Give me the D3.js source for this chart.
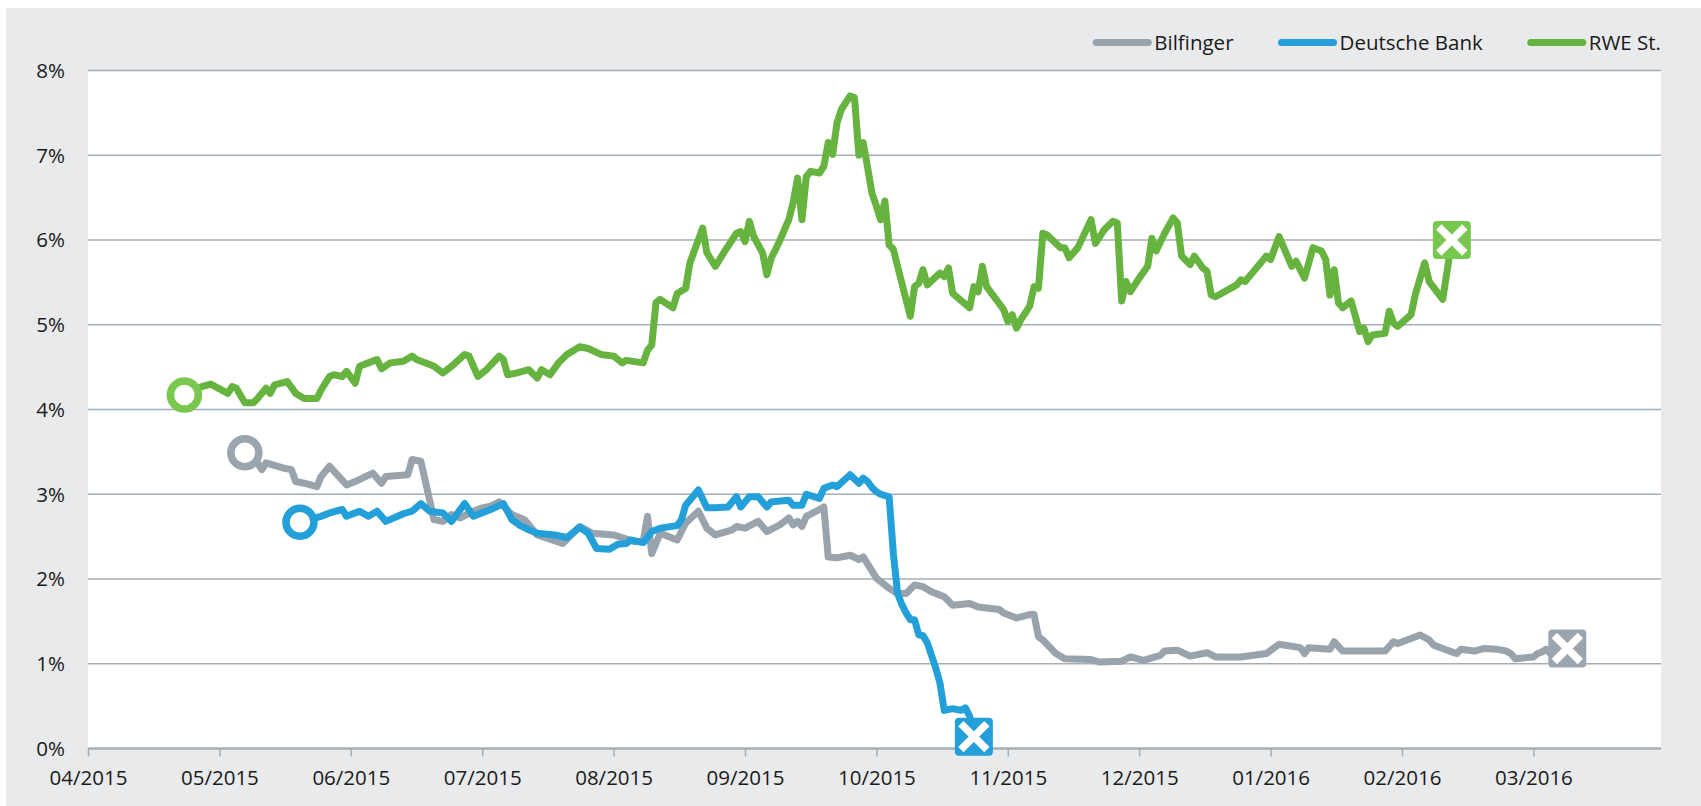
<!DOCTYPE html>
<html>
<head>
<meta charset="utf-8">
<script src="https://cdn.jsdelivr.net/npm/d3@7"></script>
<style>
  body { margin: 0; background: #ffffff; }
  svg { display: block; font-family: "Open Sans", sans-serif; }
</style>
</head>
<body>
<div id="chart"></div>
<script>
// Series names (legend order)
var seriesNames = ["Bilfinger", "Deutsche Bank", "RWE St."];

// Y tick values (percent)
var yTickValues = [0, 1, 2, 3, 4, 5, 6, 7, 8];

// Month boundaries of the x axis (ticks are the first 12)
var monthStarts = ["2015-04-01", "2015-05-01", "2015-06-01", "2015-07-01", "2015-08-01", "2015-09-01",
  "2015-10-01", "2015-11-01", "2015-12-01", "2016-01-01", "2016-02-01", "2016-03-01", "2016-04-01"];

// Bilfinger [date, percent]
var bilfinger = [
  ["2015-05-07", 3.49], ["2015-05-10", 3.37], ["2015-05-11", 3.29], ["2015-05-12", 3.37], ["2015-05-16", 3.31],
  ["2015-05-18", 3.29], ["2015-05-19", 3.15], ["2015-05-21", 3.13], ["2015-05-24", 3.09], ["2015-05-25", 3.21],
  ["2015-05-27", 3.33], ["2015-05-31", 3.11], ["2015-06-02", 3.15], ["2015-06-06", 3.25], ["2015-06-08", 3.13],
  ["2015-06-09", 3.21], ["2015-06-14", 3.23], ["2015-06-15", 3.41], ["2015-06-17", 3.39], ["2015-06-20", 2.70],
  ["2015-06-22", 2.68], ["2015-06-24", 2.76], ["2015-06-26", 2.72], ["2015-06-29", 2.80], ["2015-07-01", 2.84],
  ["2015-07-03", 2.86], ["2015-07-05", 2.91], ["2015-07-08", 2.76], ["2015-07-11", 2.70], ["2015-07-14", 2.52],
  ["2015-07-17", 2.47], ["2015-07-20", 2.42], ["2015-07-24", 2.62], ["2015-07-27", 2.54], ["2015-08-01", 2.52],
  ["2015-08-06", 2.44], ["2015-08-08", 2.45], ["2015-08-09", 2.74], ["2015-08-10", 2.30], ["2015-08-12", 2.54],
  ["2015-08-16", 2.46], ["2015-08-18", 2.66], ["2015-08-21", 2.80], ["2015-08-23", 2.60], ["2015-08-25", 2.52],
  ["2015-08-29", 2.58], ["2015-08-30", 2.62], ["2015-09-01", 2.60], ["2015-09-04", 2.68], ["2015-09-06", 2.56],
  ["2015-09-09", 2.64], ["2015-09-11", 2.72], ["2015-09-12", 2.64], ["2015-09-13", 2.68], ["2015-09-14", 2.62],
  ["2015-09-15", 2.74], ["2015-09-18", 2.82], ["2015-09-19", 2.85], ["2015-09-20", 2.26], ["2015-09-22", 2.25],
  ["2015-09-25", 2.28], ["2015-09-27", 2.23], ["2015-09-28", 2.26], ["2015-10-01", 2.01], ["2015-10-04", 1.89],
  ["2015-10-06", 1.83], ["2015-10-08", 1.83], ["2015-10-10", 1.93], ["2015-10-12", 1.91], ["2015-10-14", 1.85],
  ["2015-10-17", 1.79], ["2015-10-19", 1.69], ["2015-10-23", 1.71], ["2015-10-25", 1.67], ["2015-10-30", 1.64],
  ["2015-10-31", 1.60], ["2015-11-03", 1.54], ["2015-11-06", 1.58], ["2015-11-07", 1.58], ["2015-11-08", 1.32],
  ["2015-11-09", 1.28], ["2015-11-12", 1.12], ["2015-11-14", 1.06], ["2015-11-20", 1.05], ["2015-11-22", 1.02],
  ["2015-11-27", 1.03], ["2015-11-29", 1.08], ["2015-12-02", 1.04], ["2015-12-06", 1.10], ["2015-12-07", 1.15],
  ["2015-12-10", 1.16], ["2015-12-13", 1.09], ["2015-12-17", 1.13], ["2015-12-19", 1.08], ["2015-12-25", 1.08],
  ["2015-12-31", 1.12], ["2016-01-03", 1.23], ["2016-01-08", 1.19], ["2016-01-09", 1.12], ["2016-01-10", 1.19],
  ["2016-01-15", 1.17], ["2016-01-16", 1.26], ["2016-01-18", 1.15], ["2016-01-28", 1.15], ["2016-01-30", 1.26],
  ["2016-01-31", 1.24], ["2016-02-05", 1.34], ["2016-02-07", 1.28], ["2016-02-08", 1.22], ["2016-02-11", 1.16],
  ["2016-02-13", 1.12], ["2016-02-14", 1.17], ["2016-02-17", 1.15], ["2016-02-19", 1.18], ["2016-02-22", 1.17],
  ["2016-02-24", 1.15], ["2016-02-25", 1.12], ["2016-02-26", 1.06], ["2016-03-01", 1.08], ["2016-03-02", 1.12],
  ["2016-03-03", 1.14], ["2016-03-04", 1.17], ["2016-03-05", 1.12], ["2016-03-09", 1.18]
];

// Deutsche Bank [date, percent]
var deutscheBank = [
  ["2015-05-20", 2.67], ["2015-05-25", 2.74], ["2015-05-27", 2.78], ["2015-05-30", 2.82], ["2015-05-31", 2.74],
  ["2015-06-03", 2.80], ["2015-06-05", 2.74], ["2015-06-07", 2.80], ["2015-06-09", 2.68], ["2015-06-13", 2.77],
  ["2015-06-15", 2.80], ["2015-06-17", 2.89], ["2015-06-19", 2.80], ["2015-06-22", 2.78], ["2015-06-24", 2.68],
  ["2015-06-27", 2.89], ["2015-06-29", 2.74], ["2015-07-03", 2.82], ["2015-07-06", 2.89], ["2015-07-08", 2.70],
  ["2015-07-10", 2.63], ["2015-07-12", 2.58], ["2015-07-14", 2.54], ["2015-07-18", 2.52], ["2015-07-21", 2.49],
  ["2015-07-24", 2.61], ["2015-07-26", 2.54], ["2015-07-28", 2.36], ["2015-07-31", 2.35], ["2015-08-02", 2.41],
  ["2015-08-04", 2.42], ["2015-08-05", 2.46], ["2015-08-08", 2.43], ["2015-08-10", 2.56], ["2015-08-12", 2.60],
  ["2015-08-16", 2.63], ["2015-08-17", 2.70], ["2015-08-18", 2.87], ["2015-08-21", 3.05], ["2015-08-23", 2.84],
  ["2015-08-25", 2.84], ["2015-08-28", 2.85], ["2015-08-30", 2.97], ["2015-08-31", 2.85], ["2015-09-02", 2.97],
  ["2015-09-04", 2.97], ["2015-09-06", 2.85], ["2015-09-07", 2.91], ["2015-09-11", 2.93], ["2015-09-12", 2.87],
  ["2015-09-14", 2.87], ["2015-09-15", 3.00], ["2015-09-18", 2.95], ["2015-09-19", 3.07], ["2015-09-21", 3.11],
  ["2015-09-22", 3.09], ["2015-09-25", 3.23], ["2015-09-27", 3.13], ["2015-09-28", 3.19], ["2015-09-29", 3.15],
  ["2015-09-30", 3.08], ["2015-10-01", 3.03], ["2015-10-02", 3.00], ["2015-10-04", 2.97], ["2015-10-05", 2.30],
  ["2015-10-06", 1.83], ["2015-10-07", 1.70], ["2015-10-08", 1.60], ["2015-10-09", 1.52], ["2015-10-10", 1.52],
  ["2015-10-11", 1.34], ["2015-10-12", 1.33], ["2015-10-13", 1.25], ["2015-10-14", 1.10], ["2015-10-15", 0.95],
  ["2015-10-16", 0.77], ["2015-10-17", 0.45], ["2015-10-19", 0.47], ["2015-10-21", 0.45], ["2015-10-22", 0.48],
  ["2015-10-23", 0.38], ["2015-10-24", 0.14]
];

// RWE St. [date, percent]
var rwe = [
  ["2015-04-23", 4.17], ["2015-04-27", 4.27], ["2015-04-29", 4.30], ["2015-05-03", 4.19], ["2015-05-04", 4.27],
  ["2015-05-05", 4.25], ["2015-05-07", 4.08], ["2015-05-09", 4.08], ["2015-05-10", 4.13], ["2015-05-12", 4.25],
  ["2015-05-13", 4.19], ["2015-05-14", 4.29], ["2015-05-17", 4.33], ["2015-05-19", 4.19], ["2015-05-21", 4.13],
  ["2015-05-24", 4.13], ["2015-05-25", 4.23], ["2015-05-27", 4.39], ["2015-05-28", 4.41], ["2015-05-30", 4.39],
  ["2015-05-31", 4.45], ["2015-06-02", 4.31], ["2015-06-03", 4.51], ["2015-06-05", 4.55], ["2015-06-07", 4.59],
  ["2015-06-08", 4.48], ["2015-06-10", 4.55], ["2015-06-13", 4.57], ["2015-06-15", 4.63], ["2015-06-16", 4.59],
  ["2015-06-19", 4.53], ["2015-06-20", 4.51], ["2015-06-22", 4.43], ["2015-06-24", 4.51], ["2015-06-27", 4.65],
  ["2015-06-28", 4.63], ["2015-06-30", 4.39], ["2015-07-02", 4.47], ["2015-07-05", 4.63], ["2015-07-06", 4.59],
  ["2015-07-07", 4.41], ["2015-07-09", 4.43], ["2015-07-12", 4.47], ["2015-07-14", 4.37], ["2015-07-15", 4.47],
  ["2015-07-17", 4.41], ["2015-07-19", 4.55], ["2015-07-21", 4.65], ["2015-07-24", 4.74], ["2015-07-26", 4.72],
  ["2015-07-29", 4.65], ["2015-08-01", 4.63], ["2015-08-03", 4.55], ["2015-08-04", 4.58], ["2015-08-08", 4.55],
  ["2015-08-09", 4.70], ["2015-08-10", 4.76], ["2015-08-11", 5.26], ["2015-08-12", 5.30], ["2015-08-15", 5.20],
  ["2015-08-16", 5.37], ["2015-08-18", 5.43], ["2015-08-19", 5.73], ["2015-08-22", 6.14], ["2015-08-23", 5.85],
  ["2015-08-25", 5.69], ["2015-08-27", 5.85], ["2015-08-30", 6.08], ["2015-08-31", 6.10], ["2015-09-01", 5.98],
  ["2015-09-02", 6.22], ["2015-09-03", 6.04], ["2015-09-05", 5.85], ["2015-09-06", 5.59], ["2015-09-07", 5.79],
  ["2015-09-08", 5.89], ["2015-09-09", 6.00], ["2015-09-11", 6.24], ["2015-09-12", 6.44], ["2015-09-13", 6.73],
  ["2015-09-14", 6.24], ["2015-09-15", 6.75], ["2015-09-16", 6.81], ["2015-09-18", 6.79], ["2015-09-19", 6.87],
  ["2015-09-20", 7.15], ["2015-09-21", 7.01], ["2015-09-22", 7.38], ["2015-09-23", 7.54], ["2015-09-25", 7.70],
  ["2015-09-26", 7.68], ["2015-09-27", 7.00], ["2015-09-28", 7.15], ["2015-09-29", 6.85], ["2015-09-30", 6.55],
  ["2015-10-01", 6.40], ["2015-10-02", 6.24], ["2015-10-03", 6.46], ["2015-10-04", 5.94], ["2015-10-05", 5.89],
  ["2015-10-06", 5.69], ["2015-10-09", 5.10], ["2015-10-10", 5.45], ["2015-10-11", 5.49], ["2015-10-12", 5.65],
  ["2015-10-13", 5.47], ["2015-10-16", 5.61], ["2015-10-17", 5.57], ["2015-10-18", 5.67], ["2015-10-19", 5.37],
  ["2015-10-23", 5.20], ["2015-10-24", 5.45], ["2015-10-25", 5.39], ["2015-10-26", 5.69], ["2015-10-27", 5.45],
  ["2015-10-31", 5.18], ["2015-11-01", 5.04], ["2015-11-02", 5.12], ["2015-11-03", 4.96], ["2015-11-04", 5.06],
  ["2015-11-06", 5.22], ["2015-11-07", 5.45], ["2015-11-08", 5.43], ["2015-11-09", 6.08], ["2015-11-10", 6.06],
  ["2015-11-13", 5.91], ["2015-11-14", 5.91], ["2015-11-15", 5.79], ["2015-11-17", 5.91], ["2015-11-20", 6.24],
  ["2015-11-21", 5.96], ["2015-11-23", 6.12], ["2015-11-25", 6.22], ["2015-11-26", 6.20], ["2015-11-27", 5.28],
  ["2015-11-28", 5.51], ["2015-11-29", 5.39], ["2015-12-01", 5.55], ["2015-12-03", 5.69], ["2015-12-04", 6.02],
  ["2015-12-05", 5.87], ["2015-12-07", 6.08], ["2015-12-09", 6.26], ["2015-12-10", 6.20], ["2015-12-11", 5.81],
  ["2015-12-13", 5.71], ["2015-12-14", 5.81], ["2015-12-16", 5.67], ["2015-12-17", 5.63], ["2015-12-18", 5.35],
  ["2015-12-19", 5.33], ["2015-12-24", 5.47], ["2015-12-25", 5.53], ["2015-12-26", 5.51], ["2015-12-31", 5.81],
  ["2016-01-01", 5.77], ["2016-01-03", 6.04], ["2016-01-06", 5.69], ["2016-01-07", 5.75], ["2016-01-09", 5.55],
  ["2016-01-11", 5.91], ["2016-01-13", 5.87], ["2016-01-14", 5.77], ["2016-01-15", 5.35], ["2016-01-16", 5.65],
  ["2016-01-17", 5.26], ["2016-01-18", 5.20], ["2016-01-20", 5.28], ["2016-01-22", 4.92], ["2016-01-23", 4.96],
  ["2016-01-24", 4.80], ["2016-01-25", 4.88], ["2016-01-28", 4.90], ["2016-01-29", 5.16], ["2016-01-30", 5.02],
  ["2016-01-31", 4.98], ["2016-02-03", 5.12], ["2016-02-04", 5.37], ["2016-02-06", 5.73], ["2016-02-07", 5.51],
  ["2016-02-10", 5.30], ["2016-02-12", 6.00]
];

// Define SVG area dimensions
var svgWidth = 1701;
var svgHeight = 806;

// Define chart margins
var margin = { top: 70.5, right: 40, bottom: 57.5, left: 88 };
var width = svgWidth - margin.left - margin.right;
var height = svgHeight - margin.top - margin.bottom;
var monthWidth = 131.4;

var parseDate = d3.timeParse("%Y-%m-%d");
var months = monthStarts.map(parseDate);

var lineColors = ["#98a3ab", "#23a0da", "#67b33f"];
var markerColors = ["#9ba5ad", "#23a0da", "#7ac74f"];

var svg = d3.select("#chart")
  .append("svg")
  .attr("width", svgWidth)
  .attr("height", svgHeight);

// Gray backdrop and white plot area
svg.append("rect")
  .attr("x", 6).attr("y", 8)
  .attr("width", svgWidth - 6).attr("height", svgHeight - 8)
  .attr("fill", "#e9eaec");

var chartGroup = svg.append("g")
  .attr("transform", `translate(${margin.left}, ${margin.top})`);

chartGroup.append("rect")
  .attr("width", width).attr("height", height)
  .attr("fill", "#ffffff");

// Scales: months are evenly spaced on the axis
var xScale = d3.scaleTime()
  .domain(months)
  .range(months.map((d, i) => i * monthWidth));

var yScale = d3.scaleLinear()
  .domain([0, 8])
  .range([height, 0]);

// Grid lines
chartGroup.selectAll(".grid")
  .data(yTickValues.filter(v => v > 0))
  .enter()
  .append("line")
  .attr("x1", 0).attr("x2", width)
  .attr("y1", d => yScale(d)).attr("y2", d => yScale(d))
  .attr("stroke", "#a4aeb6")
  .attr("stroke-width", 1.5);

// Y labels
chartGroup.selectAll(".ylab")
  .data(yTickValues)
  .enter()
  .append("text")
  .attr("x", -23)
  .attr("y", d => yScale(d))
  .attr("dy", "0.36em")
  .attr("text-anchor", "end")
  .attr("font-size", "20.5px")
  .attr("fill", "#1a1a1a")
  .text(d => d + "%");

// X axis
var bottomAxis = d3.axisBottom(xScale)
  .tickValues(months.slice(0, 12))
  .tickFormat(d3.timeFormat("%m/%Y"))
  .tickSize(8)
  .tickPadding(14);

var xAxisGroup = chartGroup.append("g")
  .attr("transform", `translate(0, ${height})`)
  .call(bottomAxis);

xAxisGroup.select(".domain").remove();
xAxisGroup.selectAll(".tick line").attr("stroke", "#a4aeb6").attr("stroke-width", 1.5);
xAxisGroup.selectAll(".tick text")
  .attr("font-size", "20.5px")
  .attr("font-family", "Open Sans, sans-serif")
  .attr("fill", "#1a1a1a");

chartGroup.append("line")
  .attr("x1", 0).attr("x2", width)
  .attr("y1", height).attr("y2", height)
  .attr("stroke", "#a4aeb6")
  .attr("stroke-width", 2.5);

// Lines
var allSeries = [bilfinger, deutscheBank, rwe].map(s => s.map(p => ({ date: parseDate(p[0]), value: p[1] })));

var lineGen = d3.line()
  .x(d => xScale(d.date))
  .y(d => yScale(d.value));

allSeries.forEach(function (data, i) {
  chartGroup.append("path")
    .datum(data)
    .attr("d", lineGen)
    .attr("fill", "none")
    .attr("stroke", lineColors[i])
    .attr("stroke-width", 7)
    .attr("stroke-linejoin", "round")
    .attr("stroke-linecap", "round");
});

// Start and end markers
allSeries.forEach(function (data, i) {
  var first = data[0];
  var last = data[data.length - 1];

  chartGroup.append("circle")
    .attr("cx", xScale(first.date))
    .attr("cy", yScale(first.value))
    .attr("r", 14)
    .attr("fill", "#ffffff")
    .attr("stroke", markerColors[i])
    .attr("stroke-width", 7.5);

  var endMarker = chartGroup.append("g")
    .attr("transform", `translate(${xScale(last.date)}, ${yScale(last.value)})`);

  endMarker.append("rect")
    .attr("x", -19).attr("y", -19)
    .attr("width", 38).attr("height", 38)
    .attr("rx", 4)
    .attr("fill", markerColors[i]);

  endMarker.append("path")
    .attr("d", "M-13,-13L13,13M13,-13L-13,13")
    .attr("stroke", "#ffffff")
    .attr("stroke-width", 7.5);
});

// Legend, right aligned to the plot edge
var legendGroup = svg.append("g");
var legendX = 0;
seriesNames.forEach(function (name, i) {
  var item = legendGroup.append("g").attr("transform", `translate(${legendX}, 0)`);
  item.append("line")
    .attr("x1", 3).attr("x2", 55)
    .attr("y1", 0).attr("y2", 0)
    .attr("stroke", lineColors[i])
    .attr("stroke-width", 7)
    .attr("stroke-linecap", "round");
  var label = item.append("text")
    .attr("x", 61)
    .attr("dy", "0.36em")
    .attr("font-size", "20.5px")
    .attr("fill", "#1a1a1a")
    .text(name);
  legendX += 61 + label.node().getComputedTextLength() + 45;
});
legendX -= 45;
legendGroup.attr("transform", `translate(${margin.left + width - legendX}, 42.5)`);
</script>
</body>
</html>
